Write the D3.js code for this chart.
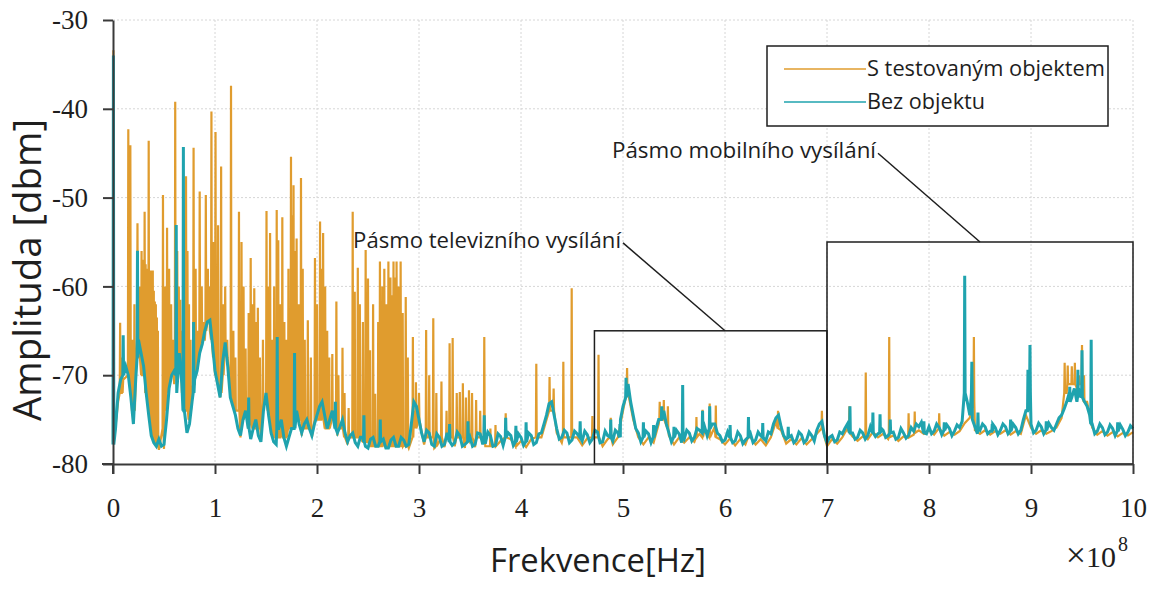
<!DOCTYPE html>
<html>
<head>
<meta charset="utf-8">
<script src="https://cdn.jsdelivr.net/npm/d3@7"></script>
<style>
  html, body { margin: 0; padding: 0; background: #ffffff; }
  svg { display: block; }
</style>
</head>
<body>
<svg id="chart" width="1158" height="592"></svg>
<script>
// ---- Axis ticks -----------------------------------------------------------
const freqTicks = [0, 1, 2, 3, 4, 5, 6, 7, 8, 9, 10];        // ×10^8 Hz
const ampTicks = [-80, -70, -60, -50, -40, -30];             // dBm

// ---- Series names ---------------------------------------------------------
const seriesNames = ["S testovaným objektem", "Bez objektu"];

// ---- "Bez objektu": noise floor every 0.025 ×10^8 Hz (0 … 10) --------------
const tealFloorStep = 0.025;
const tealFloor = [
  // 0 – 1
  -77.8, -76.0, -72.0, -70.5, -66.5, -69.0, -70.0, -72.5, -75.5, -70.0,
  -66.0, -67.5, -69.0, -72.0, -74.5, -76.8, -77.6, -78.0, -77.2, -78.0,
  -77.8, -75.0, -71.5, -70.0, -69.5, -72.0, -67.5, -71.0, -74.0, -76.5,
  -75.5, -73.0, -70.5, -69.5, -67.5, -66.5, -65.0, -64.0, -63.8, -66.5,
  // 1 – 2
  -69.5, -71.0, -72.5, -68.5, -66.3, -69.0, -72.5, -73.5, -74.5, -76.0,
  -76.8, -75.0, -74.0, -76.5, -77.2, -76.0, -75.0, -76.8, -77.5, -74.0,
  -72.0, -74.5, -76.5, -77.5, -77.8, -76.0, -75.0, -77.0, -78.0, -77.0,
  -76.0, -75.0, -74.0, -75.5, -76.5, -75.5, -75.0, -76.0, -76.8, -75.5,
  // 2 – 3
  -74.5, -73.5, -73.0, -74.5, -76.0, -75.0, -74.0, -75.5, -76.5, -75.8,
  -75.0, -76.5, -77.5, -76.8, -76.5, -77.6, -78.0, -77.0, -77.0, -78.0,
  -78.2, -77.2, -77.0, -78.0, -78.0, -77.0, -77.2, -78.2, -78.2, -77.3,
  -77.0, -78.0, -78.0, -77.0, -77.3, -78.0, -77.8, -75.5, -73.0, -73.5,
  // 3 – 4
  -75.0, -76.5, -77.5, -76.2, -76.5, -77.8, -78.0, -76.6, -77.0, -78.0,
  -77.8, -76.5, -76.8, -77.9, -77.6, -76.4, -76.8, -78.0, -77.8, -76.6,
  -77.0, -78.0, -77.8, -76.5, -76.6, -77.8, -77.7, -76.4, -76.8, -78.0,
  -77.9, -76.6, -76.9, -77.9, -77.6, -76.5, -76.8, -77.9, -77.8, -76.6,
  // 4 – 5
  -77.0, -77.9, -77.7, -76.5, -76.8, -77.8, -77.6, -76.6, -76.5, -75.5,
  -74.5, -73.2, -73.0, -74.5, -76.0, -77.2, -77.0, -76.2, -76.5, -77.6,
  -77.3, -76.3, -76.6, -77.6, -77.4, -76.3, -76.7, -77.6, -77.2, -76.2,
  -76.4, -77.6, -77.5, -76.3, -76.8, -77.6, -77.4, -76.2, -76.5, -75.0,
  // 5 – 6
  -73.5, -71.5, -71.0, -73.0, -74.5, -76.0, -76.5, -77.5, -77.3, -76.3,
  -76.6, -77.6, -77.2, -76.0, -75.0, -73.8, -74.0, -75.5, -76.5, -77.5,
  -77.2, -76.2, -76.6, -77.6, -77.2, -76.2, -76.5, -77.4, -77.0, -76.0,
  -76.2, -75.2, -75.8, -76.8, -76.5, -75.5, -75.5, -76.5, -76.8, -77.5,
  // 6 – 7
  -77.3, -76.4, -76.7, -77.6, -77.4, -76.4, -76.8, -77.7, -77.3, -76.3,
  -76.6, -77.6, -77.3, -76.4, -76.8, -77.7, -77.4, -76.4, -76.6, -75.5,
  -74.8, -74.5, -75.8, -76.8, -77.2, -76.4, -76.8, -77.6, -77.3, -76.4,
  -76.7, -77.6, -77.3, -76.4, -76.8, -77.4, -76.2, -75.5, -75.2, -76.8,
  // 7 – 8
  -77.6, -77.0, -76.8, -77.5, -77.3, -76.4, -76.6, -76.0, -75.5, -75.0,
  -76.5, -77.2, -77.0, -76.2, -76.5, -77.2, -76.8, -75.8, -76.0, -76.9,
  -76.6, -75.9, -76.2, -77.0, -76.8, -75.9, -76.4, -77.2, -77.0, -76.0,
  -76.5, -77.1, -76.8, -75.9, -76.3, -75.5, -75.8, -75.3, -76.2, -76.6,
  // 8 – 9
  -75.8, -76.6, -76.3, -75.5, -75.9, -76.7, -76.4, -75.6, -76.0, -76.8,
  -76.3, -75.6, -75.9, -75.2, -75.0, -73.0, -74.5, -75.0, -75.8, -76.6,
  -76.2, -75.5, -75.8, -76.6, -76.3, -75.5, -75.9, -76.7, -76.2, -75.5,
  -75.8, -76.6, -76.3, -75.5, -75.9, -76.6, -76.2, -75.0, -74.0, -72.5,
  // 9 – 10
  -75.5, -76.5, -76.2, -75.4, -75.8, -76.6, -76.2, -75.4, -75.9, -76.2,
  -75.5, -74.8, -74.5, -73.8, -73.0, -72.0, -72.5, -71.5, -73.0, -71.8,
  -72.0, -73.0, -73.5, -74.5, -75.5, -76.6, -76.3, -75.5, -75.9, -76.7,
  -76.4, -75.6, -76.0, -76.8, -76.5, -75.6, -76.1, -76.8, -76.4, -75.7,
  -76.0
];

// "Bez objektu": narrow peaks [frequency, peak dBm, foot dBm]
const tealPeaks = [
  [0.004, -34.0, -77.8], [0.10, -65.5, -70.0], [0.24, -56.0, -68.0],
  [0.62, -53.1, -70.0], [0.69, -44.3, -74.0], [0.79, -64.0, -72.0],
  [1.33, -72.5, -76.0], [1.61, -65.7, -76.0], [1.78, -67.5, -76.0],
  [2.18, -73.0, -76.0], [2.46, -74.5, -77.5], [2.62, -75.0, -77.5],
  [3.30, -75.5, -77.5], [3.48, -75.2, -77.5], [3.64, -74.5, -77.0],
  [3.85, -74.8, -77.0], [3.95, -75.7, -77.5], [4.05, -75.3, -77.5],
  [4.58, -75.2, -77.0], [4.88, -75.0, -77.0], [4.97, -75.5, -77.0],
  [5.03, -70.3, -72.5], [5.20, -75.3, -77.0], [5.30, -75.6, -77.0],
  [5.38, -73.5, -75.0], [5.50, -75.8, -77.0], [5.585, -71.1, -77.0],
  [5.78, -74.0, -76.5], [5.85, -73.5, -76.0], [6.05, -75.6, -77.0],
  [6.23, -74.7, -77.0], [6.37, -75.4, -77.0], [6.62, -75.8, -77.0],
  [7.225, -73.5, -76.5], [7.45, -74.2, -76.5], [7.52, -74.4, -76.5],
  [7.62, -75.0, -76.5], [7.95, -75.2, -76.5], [8.15, -75.3, -76.2],
  [8.35, -58.8, -72.0], [8.42, -68.5, -72.0], [8.48, -74.2, -76.0],
  [8.62, -75.5, -76.3], [8.80, -75.0, -76.3], [8.97, -69.4, -74.0],
  [8.99, -66.6, -72.0], [9.15, -75.2, -76.2], [9.38, -71.3, -73.0],
  [9.46, -69.4, -72.5], [9.50, -67.2, -72.5], [9.59, -66.0, -75.5],
  [9.85, -75.3, -76.3]
];

// ---- "S testovaným objektem": noise floor every 0.05 ×10^8 Hz -------------
const orangeFloorStep = 0.05;
const orangeFloor = [
  // 0 – 1
  -77.5, -73.0, -70.5, -71.0, -74.5, -68.0, -70.0, -74.0, -78.3, -78.4,
  -78.3, -72.0, -71.0, -69.0, -74.0, -75.0, -71.0, -68.0, -66.0, -65.0,
  // 1 – 2
  -70.0, -72.5, -68.0, -72.0, -75.0, -77.0, -74.5, -77.0, -76.5, -77.5,
  -73.0, -76.5, -77.5, -76.0, -77.8, -76.5, -75.0, -76.8, -76.0, -77.0,
  // 2 – 3
  -75.0, -74.0, -76.5, -75.0, -76.8, -76.0, -77.8, -77.3, -78.2, -77.8,
  -78.4, -77.8, -78.3, -77.8, -78.4, -77.8, -78.3, -77.9, -78.2, -74.0,
  // 3 – 4
  -76.0, -77.8, -77.2, -78.2, -77.4, -78.1, -77.2, -78.0, -77.2, -78.2,
  -77.4, -78.1, -77.2, -78.0, -77.3, -78.3, -77.4, -78.0, -77.2, -78.1,
  // 4 – 5
  -77.4, -78.1, -77.2, -78.0, -77.0, -75.0, -74.0, -76.5, -77.6, -77.0,
  -77.8, -77.0, -77.9, -77.1, -77.7, -77.0, -78.0, -77.2, -77.8, -77.0,
  // 5 – 6
  -74.0, -72.0, -75.0, -77.0, -77.8, -77.0, -77.6, -75.5, -74.0, -76.8,
  -77.8, -77.0, -77.6, -77.0, -77.5, -76.6, -76.2, -76.8, -75.8, -77.2,
  // 6 – 7
  -77.8, -77.1, -77.9, -77.2, -77.8, -77.0, -77.8, -77.2, -77.9, -77.0,
  -75.2, -76.2, -77.7, -77.2, -77.8, -77.1, -77.8, -77.2, -76.6, -75.6,
  // 7 – 8
  -78.0, -77.2, -77.7, -77.0, -76.0, -76.9, -77.4, -76.9, -77.2, -76.4,
  -77.0, -76.6, -77.2, -76.8, -77.4, -76.9, -77.2, -76.7, -76.2, -76.6,
  // 8 – 9
  -76.2, -76.7, -76.3, -76.8, -76.4, -76.7, -76.3, -75.4, -74.8, -76.2,
  -76.6, -76.2, -76.7, -76.3, -76.6, -76.2, -76.7, -76.3, -76.6, -74.5,
  // 9 – 10
  -75.9, -76.6, -76.2, -76.6, -76.3, -75.9, -74.8, -72.0, -71.0, -71.5,
  -71.0, -73.0, -75.9, -76.7, -76.3, -76.8, -76.4, -76.9, -76.5, -76.8,
  -76.4
];

// "S testovaným objektem": narrow peaks [frequency, peak dBm, foot dBm]
const orangePeaks = [
  [0.004, -33.4, -77.5], [0.07, -64.1, -72], [0.09, -68, -72],
  [0.15, -42.3, -70], [0.17, -44.1, -70], [0.19, -66, -74], [0.21, -62, -74],
  [0.24, -52.9, -66], [0.26, -60, -68], [0.28, -56, -70], [0.29, -58, -70],
  [0.30, -57, -70], [0.31, -51.6, -70], [0.32, -57.5, -72], [0.33, -58, -72],
  [0.34, -59, -73], [0.35, -43.6, -73], [0.36, -58.5, -74], [0.37, -58.2, -75],
  [0.38, -59.5, -76], [0.39, -58.2, -77], [0.40, -60.5, -77], [0.41, -61.7, -77.5],
  [0.42, -62, -77.5], [0.43, -63.5, -78], [0.44, -65, -78],
  [0.49, -49.7, -76], [0.51, -60, -74], [0.53, -53.4, -72], [0.55, -58, -71],
  [0.57, -62, -70], [0.59, -66, -70], [0.61, -39.2, -70], [0.63, -56, -69],
  [0.645, -60, -69], [0.66, -61.5, -68], [0.68, -65, -72], [0.716, -47.6, -74],
  [0.73, -56, -74], [0.745, -62, -75], [0.76, -66, -74], [0.79, -44.4, -71],
  [0.81, -58, -70], [0.83, -65, -68], [0.85, -49.3, -67], [0.87, -60, -66],
  [0.89, -64, -66], [0.91, -49.7, -65], [0.93, -58, -64], [0.945, -60, -64],
  [0.965, -40.3, -66], [0.985, -55, -68], [1.005, -42.6, -70], [1.03, -53.1, -71],
  [1.06, -46.5, -72], [1.08, -62, -70], [1.10, -60, -67], [1.12, -66, -68],
  [1.157, -37.4, -72], [1.18, -65, -73], [1.20, -68, -74], [1.235, -51.6, -74],
  [1.26, -55.0, -74], [1.28, -60, -75], [1.30, -67, -74], [1.33, -63, -76],
  [1.35, -56.8, -75], [1.37, -62, -76], [1.385, -60.2, -76], [1.40, -64, -76],
  [1.42, -62.4, -76], [1.44, -68, -76], [1.47, -66, -73], [1.505, -51.5, -73],
  [1.52, -60, -74], [1.54, -54.0, -75], [1.56, -66, -76], [1.58, -60, -77],
  [1.605, -51.4, -77], [1.62, -54.8, -77], [1.64, -62, -77], [1.66, -52.2, -77],
  [1.68, -64, -77], [1.70, -66, -77], [1.72, -58, -76], [1.745, -45.4, -76],
  [1.76, -52, -76], [1.77, -48.6, -76], [1.79, -56, -75], [1.80, -54.6, -75],
  [1.82, -62, -75], [1.843, -47.8, -75], [1.86, -58, -76], [1.88, -66, -76],
  [1.91, -63.8, -76], [1.94, -68, -76], [1.98, -56.8, -75], [2.00, -62, -75],
  [2.03, -52.7, -75], [2.045, -58, -75], [2.06, -54.0, -75], [2.08, -60, -76],
  [2.10, -65, -76], [2.12, -68, -76], [2.15, -67.6, -75], [2.19, -61.7, -75],
  [2.21, -70, -76], [2.25, -66.9, -76], [2.27, -72, -77], [2.31, -73.7, -77],
  [2.35, -51.6, -77], [2.37, -60.6, -77], [2.40, -57.9, -77], [2.42, -62, -77],
  [2.45, -64, -77.5], [2.477, -55.9, -77.5], [2.50, -59.1, -77.5], [2.52, -67.2, -78],
  [2.55, -62, -78], [2.57, -72.1, -78], [2.60, -64, -78], [2.617, -57.2, -78],
  [2.64, -60, -78], [2.66, -58, -78], [2.68, -62, -78], [2.70, -57.2, -78],
  [2.72, -59, -78], [2.735, -61, -78], [2.75, -57.2, -78], [2.765, -59, -78],
  [2.78, -57.2, -78], [2.80, -60, -78], [2.82, -57.2, -78], [2.84, -63, -78],
  [2.87, -61.2, -78], [2.89, -68, -78], [2.94, -65.7, -77], [2.97, -70.8, -76],
  [3.00, -72, -75], [3.07, -64.9, -77], [3.10, -70, -77], [3.14, -63.6, -77],
  [3.17, -72, -78], [3.22, -70.7, -77], [3.27, -74, -77], [3.30, -66.4, -77],
  [3.33, -65.8, -77], [3.37, -72, -77], [3.40, -71.9, -77], [3.43, -70.9, -77],
  [3.46, -72.5, -77], [3.49, -71.7, -77], [3.52, -72, -77], [3.56, -72.8, -77],
  [3.60, -74, -77], [3.64, -65.7, -77], [3.70, -76, -78], [3.75, -75.6, -78],
  [3.85, -74.3, -77], [3.95, -76, -78], [4.15, -68.7, -77], [4.28, -70.2, -74],
  [4.32, -71.5, -74], [4.415, -68.5, -77], [4.497, -60.2, -77], [4.70, -74.6, -77],
  [4.76, -67.7, -77], [4.88, -74.8, -77], [5.04, -69.2, -72], [5.36, -73.0, -75],
  [5.40, -72.8, -75], [5.44, -73.5, -76], [5.72, -74.7, -77], [5.78, -73.9, -77],
  [5.85, -73.2, -77], [5.91, -73.4, -77], [6.23, -74.8, -77], [6.52, -74.0, -76],
  [6.95, -74.0, -76], [7.22, -73.5, -76.5], [7.38, -69.7, -77], [7.61, -65.7, -77],
  [7.80, -74.3, -77], [7.86, -74.1, -76.5], [8.10, -74.3, -76], [8.44, -65.7, -73],
  [9.33, -68.6, -72], [9.36, -68.9, -71], [9.40, -69, -71], [9.43, -68.6, -71],
  [9.47, -70, -71], [9.50, -66.6, -71], [9.52, -70, -73]
];

// ---- Layout ---------------------------------------------------------------
const W = 1158, H = 592;
const margin = { left: 113, top: 20, right: 25, bottom: 128 };
const plotW = W - margin.left - margin.right;   // 1020
const plotH = H - margin.top - margin.bottom;   // 444

const ORANGE = "#E09C2E";
const TEAL = "#1FA3AE";
const INK = "#1e1e1e";
const AXIS = "#3a3a3a";
const SANS = "'Open Sans', 'Noto Sans', sans-serif";
const SERIF = "'Liberation Serif', 'Times New Roman', serif";

const svg = d3.select("#chart");
const g = svg.append("g").attr("transform", `translate(${margin.left},${margin.top})`);

const x = d3.scaleLinear().domain([0, 10]).range([0, plotW]);
const y = d3.scaleLinear().domain([-80, -30]).range([plotH, 0]);

// Scale a label's font size so that it spans the given width
function fitWidth(sel, target) {
  const len = sel.node().getComputedTextLength();
  const fs = parseFloat(sel.attr("font-size"));
  if (len > 0) sel.attr("font-size", (fs * target / len).toFixed(2));
}

// Combine a floor trace with its narrow peaks into one polyline
function buildTrace(floor, step, peaks) {
  const hw = 0.004;
  const pts = floor
    .map((v, i) => [i * step, v])
    .filter(p => !peaks.some(k => Math.abs(k[0] - p[0]) <= hw + 0.001));
  peaks.forEach(([f, peak, foot]) => {
    pts.push([Math.max(0, f - hw), foot], [f, peak], [f + hw, foot]);
  });
  return pts.sort((a, b) => a[0] - b[0]);
}

const orangeTrace = buildTrace(orangeFloor, orangeFloorStep, orangePeaks);
const tealTrace = buildTrace(tealFloor, tealFloorStep, tealPeaks);

// ---- Grid -----------------------------------------------------------------
const grid = g.append("g").attr("class", "grid");
grid.selectAll("line.gx").data(freqTicks.filter(d => d > 0)).join("line")
  .attr("x1", d => x(d)).attr("x2", d => x(d))
  .attr("y1", 0).attr("y2", plotH)
  .attr("stroke", "#d6d6d6").attr("stroke-width", 1).attr("stroke-dasharray", "2,2");
grid.selectAll("line.gy").data(ampTicks.filter(d => d > -80)).join("line")
  .attr("x1", 0).attr("x2", plotW)
  .attr("y1", d => y(d)).attr("y2", d => y(d))
  .attr("stroke", "#d6d6d6").attr("stroke-width", 1).attr("stroke-dasharray", "2,2");

// ---- Traces ---------------------------------------------------------------
const line = d3.line().x(d => x(d[0])).y(d => y(d[1]));

g.append("path").datum(orangeTrace)
  .attr("d", line).attr("fill", "none")
  .attr("stroke", ORANGE).attr("stroke-width", 2.2).attr("stroke-linejoin", "miter");

g.append("path").datum(tealTrace)
  .attr("d", line).attr("fill", "none")
  .attr("stroke", TEAL).attr("stroke-width", 3).attr("stroke-linejoin", "miter");

// ---- Band boxes with call-out lines -----------------------------------------
const bands = [
  { f0: 4.72, f1: 7.0, top: -65, label: "Pásmo televizního vysílání",
    from: [5.0, -55.1], to: [6.0, -65], labelWidth: 268 },
  { f0: 7.0, f1: 10.0, top: -55, label: "Pásmo mobilního vysílání",
    from: [7.5, -45.0], to: [8.5, -55], labelWidth: 264 }
];

const ann = g.append("g").attr("class", "bands");
bands.forEach(b => {
  ann.append("rect")
    .attr("x", x(b.f0)).attr("y", y(b.top))
    .attr("width", x(b.f1) - x(b.f0)).attr("height", y(-80) - y(b.top))
    .attr("fill", "none").attr("stroke", INK).attr("stroke-width", 1.5);
  ann.append("line")
    .attr("x1", x(b.from[0])).attr("y1", y(b.from[1]))
    .attr("x2", x(b.to[0])).attr("y2", y(b.to[1]))
    .attr("stroke", INK).attr("stroke-width", 1.5);
  const t = ann.append("text")
    .attr("x", x(b.from[0]) - 2).attr("y", y(b.from[1]) + 5)
    .attr("text-anchor", "end")
    .attr("font-family", SANS).attr("font-size", 19)
    .attr("fill", INK).text(b.label);
  fitWidth(t, b.labelWidth);
});

// ---- Axes -----------------------------------------------------------------
const xAxis = d3.axisBottom(x).tickValues(freqTicks).tickFormat(d => String(d))
  .tickSizeInner(10).tickSizeOuter(0).tickPadding(24);
const yAxis = d3.axisLeft(y).tickValues(ampTicks).tickFormat(d => String(d))
  .tickSizeInner(10).tickSizeOuter(0).tickPadding(15);

const gx = g.append("g").attr("transform", `translate(0,${plotH})`).call(xAxis);
const gy = g.append("g").call(yAxis);

[gx, gy].forEach(a => {
  a.select(".domain").attr("stroke", AXIS).attr("stroke-width", 2);
  a.selectAll(".tick line").attr("stroke", AXIS).attr("stroke-width", 2);
  a.selectAll(".tick text")
    .attr("font-family", SERIF).attr("font-size", 27).attr("fill", INK);
});

// axis lines run slightly past their crossing point
g.append("line").attr("x1", -11).attr("x2", 0).attr("y1", plotH).attr("y2", plotH)
  .attr("stroke", AXIS).attr("stroke-width", 2);
g.append("line").attr("x1", 0).attr("x2", 0).attr("y1", plotH).attr("y2", plotH + 10)
  .attr("stroke", AXIS).attr("stroke-width", 2);

// ---- Axis titles ------------------------------------------------------------
const xt = svg.append("text")
  .attr("x", 598).attr("y", 572).attr("text-anchor", "middle")
  .attr("font-family", SANS).attr("font-size", 30).attr("fill", INK)
  .text("Frekvence[Hz]");
fitWidth(xt, 216);

const yt = svg.append("text")
  .attr("transform", "translate(41,270) rotate(-90)")
  .attr("text-anchor", "middle")
  .attr("font-family", SANS).attr("font-size", 26).attr("fill", INK)
  .text("Amplituda [dbm]");
fitWidth(yt, 302);

// exponent note under the last tick
const expo = svg.append("text")
  .attr("x", 1116).attr("y", 567).attr("text-anchor", "end")
  .attr("font-family", SERIF).attr("fill", INK);
expo.append("tspan").attr("font-size", 36).attr("dy", 0).text("×");
expo.append("tspan").attr("font-size", 30).text("10");
svg.append("text")
  .attr("x", 1118).attr("y", 551)
  .attr("font-family", SERIF).attr("font-size", 20).attr("fill", INK)
  .text("8");

// ---- Legend ---------------------------------------------------------------
const legend = svg.append("g").attr("transform", "translate(767,46)");
legend.append("rect")
  .attr("width", 341).attr("height", 80)
  .attr("fill", "#ffffff").attr("stroke", INK).attr("stroke-width", 1.5);
const legendColors = [ORANGE, TEAL];
const legendWidths = [238, 118];
seriesNames.forEach((name, i) => {
  const cy = 23 + i * 33;
  legend.append("line")
    .attr("x1", 17).attr("x2", 99).attr("y1", cy).attr("y2", cy)
    .attr("stroke", legendColors[i]).attr("stroke-width", 1.5);
  const t = legend.append("text")
    .attr("x", 100).attr("y", cy + 7)
    .attr("font-family", SANS).attr("font-size", 19).attr("fill", INK)
    .text(name);
  fitWidth(t, legendWidths[i]);
});
</script>
</body>
</html>
